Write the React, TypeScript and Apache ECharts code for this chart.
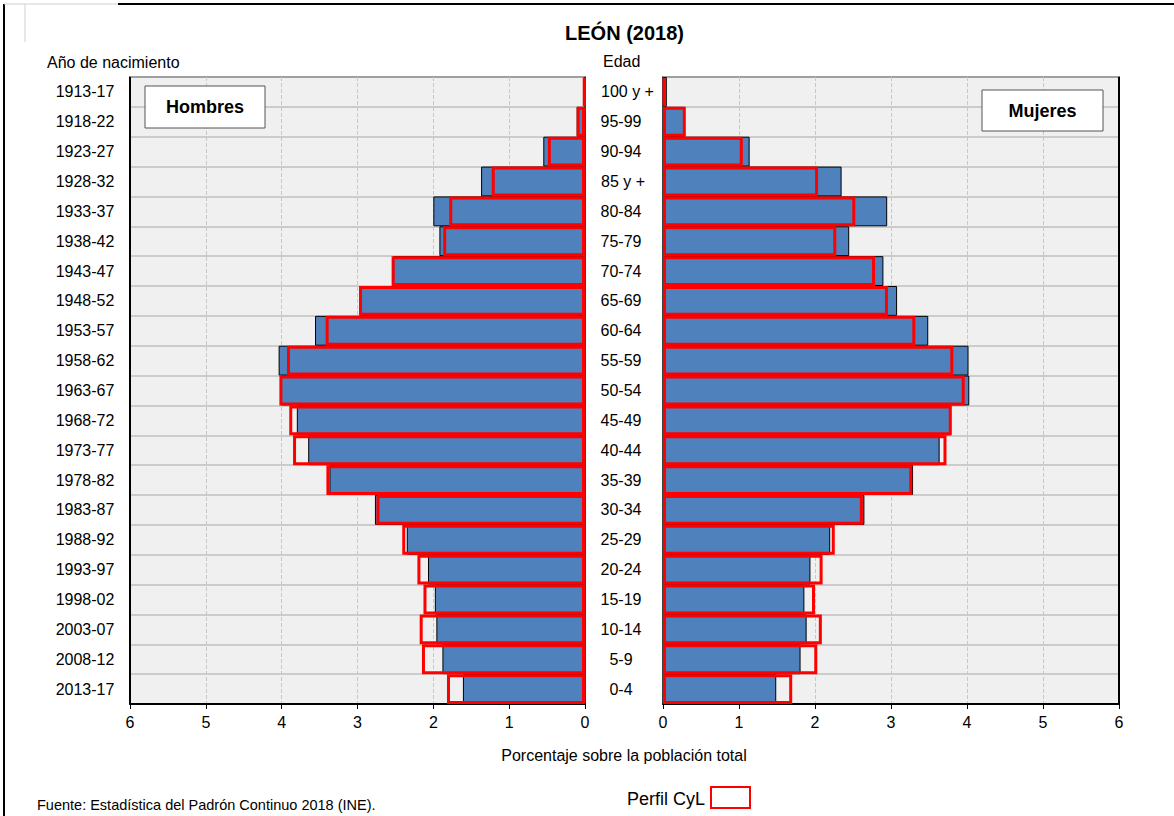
import React, { useEffect, useRef } from "react";
import * as echarts from "echarts";

const birthYears = [
  "1913-17", "1918-22", "1923-27", "1928-32", "1933-37", "1938-42", "1943-47",
  "1948-52", "1953-57", "1958-62", "1963-67", "1968-72", "1973-77", "1978-82",
  "1983-87", "1988-92", "1993-97", "1998-02", "2003-07", "2008-12", "2013-17",
];
const ageGroups = [
  "100 y +", "95-99", "90-94", "85 y +", "80-84", "75-79", "70-74", "65-69",
  "60-64", "55-59", "50-54", "45-49", "40-44", "35-39", "30-34", "25-29",
  "20-24", "15-19", "10-14", "5-9", "0-4",
];
const menLeon = [
  0.02, 0.11, 0.55, 1.37, 2.0, 1.92, 2.53, 2.97, 3.56, 4.04, 4.01, 3.8, 3.65,
  3.37, 2.77, 2.35, 2.07, 1.98, 1.96, 1.88, 1.61,
];
const menCyL = [
  0.02, 0.11, 0.49, 1.23, 1.79, 1.87, 2.55, 2.98, 3.42, 3.93, 4.03, 3.9, 3.85,
  3.41, 2.75, 2.41, 2.21, 2.13, 2.18, 2.15, 1.82,
];
const womenLeon = [
  0.05, 0.29, 1.14, 2.35, 2.95, 2.45, 2.9, 3.08, 3.49, 4.02, 4.03, 3.79, 3.64,
  3.29, 2.65, 2.2, 1.94, 1.86, 1.89, 1.81, 1.49,
];
const womenCyL = [
  0.03, 0.3, 1.05, 2.04, 2.53, 2.28, 2.79, 2.96, 3.32, 3.82, 3.97, 3.8, 3.73,
  3.28, 2.63, 2.26, 2.1, 2.0, 2.09, 2.03, 1.7,
];

const FONT = "'Liberation Sans', Arial, sans-serif";

export default function App() {
  const ref = useRef<HTMLDivElement>(null);
  useEffect(() => {
    if (!ref.current) return;
    const chart = echarts.init(ref.current, undefined, { renderer: "svg" });
    const xAxisCommon = {
      type: "value" as const,
      min: 0,
      max: 6,
      interval: 1,
      axisLine: { show: true, lineStyle: { color: "#000", width: 2 } },
      axisTick: { show: true, length: 5, lineStyle: { color: "#000", width: 1 } },
      axisLabel: { fontSize: 16, color: "#000", fontFamily: FONT, margin: 10 },
      splitLine: {
        show: true,
        showMinLine: false,
        showMaxLine: false,
        lineStyle: { color: "#c8c8c8", type: "dashed" as const, width: 1 },
      },
    };
    const yAxisCommon = {
      type: "category" as const,
      inverse: true,
      axisLine: { show: false, onZero: false },
      axisTick: { show: false },
      splitLine: { show: true, lineStyle: { color: "#c0c0c0", width: 1.5 } },
    };
    const blue = {
      color: "#4f81bd",
      borderColor: "#000",
      borderWidth: 1,
    };
    const red = {
      color: "rgba(0,0,0,0)",
      borderColor: "#ff0000",
      borderWidth: 3,
    };
    chart.setOption({
      animation: false,
      textStyle: { fontFamily: FONT },
      grid: [
        {
          left: 130, top: 77, width: 455, height: 627,
          show: true, backgroundColor: "#f0f0f0", borderColor: "#000", borderWidth: 1.5,
        },
        {
          left: 663, top: 77, width: 456, height: 627,
          show: true, backgroundColor: "#f0f0f0", borderColor: "#000", borderWidth: 1.5,
        },
      ],
      xAxis: [
        { ...xAxisCommon, gridIndex: 0, inverse: true },
        { ...xAxisCommon, gridIndex: 1 },
      ],
      yAxis: [
        {
          ...yAxisCommon,
          gridIndex: 0,
          position: "left",
          data: birthYears,
          axisLabel: { fontSize: 16, color: "#000", fontFamily: FONT, align: "center", margin: 45 },
        },
        {
          ...yAxisCommon,
          gridIndex: 1,
          position: "left",
          data: ageGroups,
          axisLabel: {
            fontSize: 16,
            color: "#000",
            fontFamily: FONT,
            align: "center",
            margin: 42,
            formatter: (v: string) =>
              v === "100 y +" ? `{w|${v}}` : v === "85 y +" ? `{m|${v}}` : v,
            rich: {
              w: { fontSize: 16, color: "#000", fontFamily: FONT, padding: [0, 0, 0, 13] },
              m: { fontSize: 16, color: "#000", fontFamily: FONT, padding: [0, 0, 0, 4] },
            },
          },
        },
      ],
      series: [
        {
          name: "León hombres", type: "bar", xAxisIndex: 0, yAxisIndex: 0,
          data: menLeon, barCategoryGap: "0%", barGap: "-100%", itemStyle: blue,
        },
        {
          name: "CyL hombres", type: "bar", xAxisIndex: 0, yAxisIndex: 0,
          data: menCyL, barCategoryGap: "0%", barGap: "-100%", itemStyle: red,
        },
        {
          name: "León mujeres", type: "bar", xAxisIndex: 1, yAxisIndex: 1,
          data: womenLeon, barCategoryGap: "0%", barGap: "-100%", itemStyle: blue,
        },
        {
          name: "CyL mujeres", type: "bar", xAxisIndex: 1, yAxisIndex: 1,
          data: womenCyL, barCategoryGap: "0%", barGap: "-100%", itemStyle: red,
        },
      ],
      graphic: [
        { type: "line", shape: { x1: 4, y1: 4, x2: 4, y2: 816 }, style: { stroke: "#000", lineWidth: 2 } },
        { type: "line", shape: { x1: 118, y1: 4, x2: 1174, y2: 4 }, style: { stroke: "#000", lineWidth: 2 } },
        { type: "line", shape: { x1: 4, y1: 4, x2: 118, y2: 4 }, style: { stroke: "#d0d0d0", lineWidth: 1 } },
        { type: "line", shape: { x1: 25, y1: 4, x2: 25, y2: 42 }, style: { stroke: "#d0d0d0", lineWidth: 1 } },
        { type: "line", shape: { x1: 1119, y1: 77, x2: 1119, y2: 704 }, z: 5, style: { stroke: "#000", lineWidth: 2 } },
        { type: "line", shape: { x1: 130, y1: 77, x2: 130, y2: 704 }, z: 5, style: { stroke: "#000", lineWidth: 2 } },
        {
          type: "text", x: 624.5, y: 33,
          style: { text: "LEÓN (2018)", font: `bold 20px ${FONT}`, fill: "#000", textAlign: "center", textVerticalAlign: "middle" },
        },
        {
          type: "text", x: 47, y: 62,
          style: { text: "Año de nacimiento", font: `16px ${FONT}`, fill: "#000", textAlign: "left", textVerticalAlign: "middle" },
        },
        {
          type: "text", x: 603, y: 61,
          style: { text: "Edad", font: `16px ${FONT}`, fill: "#000", textAlign: "left", textVerticalAlign: "middle" },
        },
        {
          type: "rect", shape: { x: 145, y: 86, width: 120, height: 42 }, z: 10,
          style: { fill: "#fff", stroke: "#555", lineWidth: 1 },
        },
        {
          type: "text", x: 205, y: 107, z: 11,
          style: { text: "Hombres", font: `bold 18px ${FONT}`, fill: "#000", textAlign: "center", textVerticalAlign: "middle" },
        },
        {
          type: "rect", shape: { x: 982, y: 90, width: 121, height: 41 }, z: 10,
          style: { fill: "#fff", stroke: "#555", lineWidth: 1 },
        },
        {
          type: "text", x: 1042.5, y: 110.5, z: 11,
          style: { text: "Mujeres", font: `bold 18px ${FONT}`, fill: "#000", textAlign: "center", textVerticalAlign: "middle" },
        },
        {
          type: "text", x: 624, y: 755,
          style: { text: "Porcentaje sobre la población total", font: `16px ${FONT}`, fill: "#000", textAlign: "center", textVerticalAlign: "middle" },
        },
        {
          type: "text", x: 705, y: 799,
          style: { text: "Perfil CyL", font: `18px ${FONT}`, fill: "#000", textAlign: "right", textVerticalAlign: "middle" },
        },
        {
          type: "rect", shape: { x: 711, y: 787, width: 39, height: 21 },
          style: { fill: "#fff", stroke: "#ff0000", lineWidth: 2 },
        },
        {
          type: "text", x: 37, y: 805,
          style: { text: "Fuente: Estadística del Padrón Continuo 2018 (INE).", font: `14.5px ${FONT}`, fill: "#000", textAlign: "left", textVerticalAlign: "middle" },
        },
      ],
    });
    return () => chart.dispose();
  }, []);
  return (
    <div
      ref={ref}
      style={{ position: "fixed", left: 0, top: 0, width: 1174, height: 816, background: "#fff" }}
    />
  );
}
